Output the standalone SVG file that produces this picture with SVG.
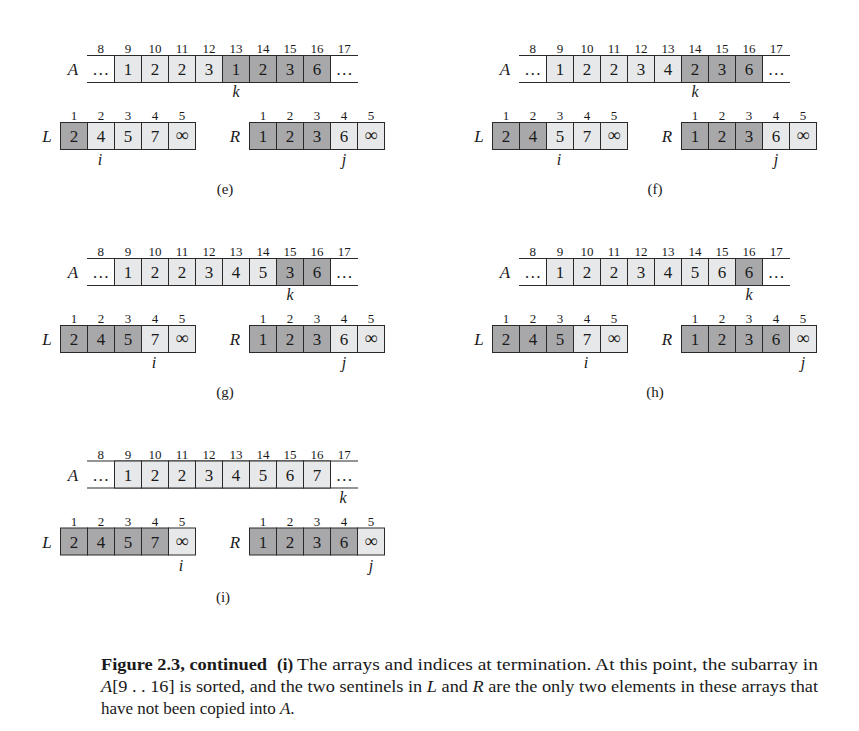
<svg xmlns="http://www.w3.org/2000/svg" width="859" height="731" viewBox="0 0 859 731">
<defs>
<style>
text{font-family:"Liberation Serif","Times New Roman",serif;fill:#1a1a1a}
.idx{font-size:13px;text-anchor:middle}
.val{font-size:17px;text-anchor:middle}
.inf{font-size:18px;text-anchor:middle}
.lbl{font-size:17px;font-style:italic;text-anchor:middle}
.ptr{font-size:16px;font-style:italic;text-anchor:middle}
.cap{font-size:17px}
.pl{font-size:15px;text-anchor:middle}
.d{fill:#a8a8ab;stroke:#2a2a2a;stroke-width:1}
.l{fill:#e7e8e9;stroke:#2a2a2a;stroke-width:1}
.ln{stroke:#2a2a2a;stroke-width:1.2;fill:none}
</style>
</defs>

<!-- Panel (e) -->
<g id="panel-e">
<text class="lbl" x="73" y="75">A</text>
<text class="idx" y="53"><tspan x="100.75">8</tspan><tspan x="128">9</tspan><tspan x="155">10</tspan><tspan x="182">11</tspan><tspan x="209">12</tspan><tspan x="236">13</tspan><tspan x="263">14</tspan><tspan x="290">15</tspan><tspan x="317">16</tspan><tspan x="344.25">17</tspan></text>
<line class="ln" x1="87" y1="55.5" x2="358" y2="55.5"/><line class="ln" x1="87" y1="82.5" x2="358" y2="82.5"/>
<rect class="l" x="114.5" y="55.5" width="27" height="27"/><rect class="l" x="141.5" y="55.5" width="27" height="27"/><rect class="l" x="168.5" y="55.5" width="27" height="27"/><rect class="l" x="195.5" y="55.5" width="27" height="27"/>
<rect class="d" x="222.5" y="55.5" width="27" height="27"/><rect class="d" x="249.5" y="55.5" width="27" height="27"/><rect class="d" x="276.5" y="55.5" width="27" height="27"/><rect class="d" x="303.5" y="55.5" width="27" height="27"/>
<text class="val" y="75"><tspan x="100.75">…</tspan><tspan x="128">1</tspan><tspan x="155">2</tspan><tspan x="182">2</tspan><tspan x="209">3</tspan><tspan x="236">1</tspan><tspan x="263">2</tspan><tspan x="290">3</tspan><tspan x="317">6</tspan><tspan x="344.25">…</tspan></text>
<text class="ptr" x="236" y="97">k</text>
<text class="lbl" x="47" y="142">L</text>
<text class="idx" y="120"><tspan x="74">1</tspan><tspan x="101">2</tspan><tspan x="128">3</tspan><tspan x="155">4</tspan><tspan x="182">5</tspan></text>
<rect class="d" x="60.5" y="122.5" width="27" height="27"/><rect class="l" x="87.5" y="122.5" width="27" height="27"/><rect class="l" x="114.5" y="122.5" width="27" height="27"/><rect class="l" x="141.5" y="122.5" width="27" height="27"/><rect class="l" x="168.5" y="122.5" width="27" height="27"/>
<text class="val" y="142"><tspan x="74">2</tspan><tspan x="101">4</tspan><tspan x="128">5</tspan><tspan x="155">7</tspan></text><text class="inf" x="182" y="141">∞</text>
<text class="ptr" x="100" y="165">i</text>
<text class="lbl" x="235" y="142">R</text>
<text class="idx" y="120"><tspan x="263">1</tspan><tspan x="290">2</tspan><tspan x="317">3</tspan><tspan x="344">4</tspan><tspan x="371">5</tspan></text>
<rect class="d" x="249.5" y="122.5" width="27" height="27"/><rect class="d" x="276.5" y="122.5" width="27" height="27"/><rect class="d" x="303.5" y="122.5" width="27" height="27"/><rect class="l" x="330.5" y="122.5" width="27" height="27"/><rect class="l" x="357.5" y="122.5" width="27" height="27"/>
<text class="val" y="142"><tspan x="263">1</tspan><tspan x="290">2</tspan><tspan x="317">3</tspan><tspan x="344">6</tspan></text><text class="inf" x="371" y="141">∞</text>
<text class="ptr" x="344" y="165">j</text>
<text class="pl" x="225" y="194">(e)</text>
</g>

<!-- Panel (f) -->
<g id="panel-f" transform="translate(432,0)">
<text class="lbl" x="73" y="75">A</text>
<text class="idx" y="53"><tspan x="100.75">8</tspan><tspan x="128">9</tspan><tspan x="155">10</tspan><tspan x="182">11</tspan><tspan x="209">12</tspan><tspan x="236">13</tspan><tspan x="263">14</tspan><tspan x="290">15</tspan><tspan x="317">16</tspan><tspan x="344.25">17</tspan></text>
<line class="ln" x1="87" y1="55.5" x2="358" y2="55.5"/><line class="ln" x1="87" y1="82.5" x2="358" y2="82.5"/>
<rect class="l" x="114.5" y="55.5" width="27" height="27"/><rect class="l" x="141.5" y="55.5" width="27" height="27"/><rect class="l" x="168.5" y="55.5" width="27" height="27"/><rect class="l" x="195.5" y="55.5" width="27" height="27"/>
<rect class="l" x="222.5" y="55.5" width="27" height="27"/><rect class="d" x="249.5" y="55.5" width="27" height="27"/><rect class="d" x="276.5" y="55.5" width="27" height="27"/><rect class="d" x="303.5" y="55.5" width="27" height="27"/>
<text class="val" y="75"><tspan x="100.75">…</tspan><tspan x="128">1</tspan><tspan x="155">2</tspan><tspan x="182">2</tspan><tspan x="209">3</tspan><tspan x="236">4</tspan><tspan x="263">2</tspan><tspan x="290">3</tspan><tspan x="317">6</tspan><tspan x="344.25">…</tspan></text>
<text class="ptr" x="263" y="97">k</text>
<text class="lbl" x="47" y="142">L</text>
<text class="idx" y="120"><tspan x="74">1</tspan><tspan x="101">2</tspan><tspan x="128">3</tspan><tspan x="155">4</tspan><tspan x="182">5</tspan></text>
<rect class="d" x="60.5" y="122.5" width="27" height="27"/><rect class="d" x="87.5" y="122.5" width="27" height="27"/><rect class="l" x="114.5" y="122.5" width="27" height="27"/><rect class="l" x="141.5" y="122.5" width="27" height="27"/><rect class="l" x="168.5" y="122.5" width="27" height="27"/>
<text class="val" y="142"><tspan x="74">2</tspan><tspan x="101">4</tspan><tspan x="128">5</tspan><tspan x="155">7</tspan></text><text class="inf" x="182" y="141">∞</text>
<text class="ptr" x="127" y="165">i</text>
<text class="lbl" x="235" y="142">R</text>
<text class="idx" y="120"><tspan x="263">1</tspan><tspan x="290">2</tspan><tspan x="317">3</tspan><tspan x="344">4</tspan><tspan x="371">5</tspan></text>
<rect class="d" x="249.5" y="122.5" width="27" height="27"/><rect class="d" x="276.5" y="122.5" width="27" height="27"/><rect class="d" x="303.5" y="122.5" width="27" height="27"/><rect class="l" x="330.5" y="122.5" width="27" height="27"/><rect class="l" x="357.5" y="122.5" width="27" height="27"/>
<text class="val" y="142"><tspan x="263">1</tspan><tspan x="290">2</tspan><tspan x="317">3</tspan><tspan x="344">6</tspan></text><text class="inf" x="371" y="141">∞</text>
<text class="ptr" x="344" y="165">j</text>
<text class="pl" x="223" y="194">(f)</text>
</g>

<!-- Panel (g) -->
<g id="panel-g" transform="translate(0,203)">
<text class="lbl" x="73" y="75">A</text>
<text class="idx" y="53"><tspan x="100.75">8</tspan><tspan x="128">9</tspan><tspan x="155">10</tspan><tspan x="182">11</tspan><tspan x="209">12</tspan><tspan x="236">13</tspan><tspan x="263">14</tspan><tspan x="290">15</tspan><tspan x="317">16</tspan><tspan x="344.25">17</tspan></text>
<line class="ln" x1="87" y1="55.5" x2="358" y2="55.5"/><line class="ln" x1="87" y1="82.5" x2="358" y2="82.5"/>
<rect class="l" x="114.5" y="55.5" width="27" height="27"/><rect class="l" x="141.5" y="55.5" width="27" height="27"/><rect class="l" x="168.5" y="55.5" width="27" height="27"/><rect class="l" x="195.5" y="55.5" width="27" height="27"/>
<rect class="l" x="222.5" y="55.5" width="27" height="27"/><rect class="l" x="249.5" y="55.5" width="27" height="27"/><rect class="d" x="276.5" y="55.5" width="27" height="27"/><rect class="d" x="303.5" y="55.5" width="27" height="27"/>
<text class="val" y="75"><tspan x="100.75">…</tspan><tspan x="128">1</tspan><tspan x="155">2</tspan><tspan x="182">2</tspan><tspan x="209">3</tspan><tspan x="236">4</tspan><tspan x="263">5</tspan><tspan x="290">3</tspan><tspan x="317">6</tspan><tspan x="344.25">…</tspan></text>
<text class="ptr" x="290" y="97">k</text>
<text class="lbl" x="47" y="142">L</text>
<text class="idx" y="120"><tspan x="74">1</tspan><tspan x="101">2</tspan><tspan x="128">3</tspan><tspan x="155">4</tspan><tspan x="182">5</tspan></text>
<rect class="d" x="60.5" y="122.5" width="27" height="27"/><rect class="d" x="87.5" y="122.5" width="27" height="27"/><rect class="d" x="114.5" y="122.5" width="27" height="27"/><rect class="l" x="141.5" y="122.5" width="27" height="27"/><rect class="l" x="168.5" y="122.5" width="27" height="27"/>
<text class="val" y="142"><tspan x="74">2</tspan><tspan x="101">4</tspan><tspan x="128">5</tspan><tspan x="155">7</tspan></text><text class="inf" x="182" y="141">∞</text>
<text class="ptr" x="154" y="165">i</text>
<text class="lbl" x="235" y="142">R</text>
<text class="idx" y="120"><tspan x="263">1</tspan><tspan x="290">2</tspan><tspan x="317">3</tspan><tspan x="344">4</tspan><tspan x="371">5</tspan></text>
<rect class="d" x="249.5" y="122.5" width="27" height="27"/><rect class="d" x="276.5" y="122.5" width="27" height="27"/><rect class="d" x="303.5" y="122.5" width="27" height="27"/><rect class="l" x="330.5" y="122.5" width="27" height="27"/><rect class="l" x="357.5" y="122.5" width="27" height="27"/>
<text class="val" y="142"><tspan x="263">1</tspan><tspan x="290">2</tspan><tspan x="317">3</tspan><tspan x="344">6</tspan></text><text class="inf" x="371" y="141">∞</text>
<text class="ptr" x="344" y="165">j</text>
<text class="pl" x="225" y="194">(g)</text>
</g>

<!-- Panel (h) -->
<g id="panel-h" transform="translate(432,203)">
<text class="lbl" x="73" y="75">A</text>
<text class="idx" y="53"><tspan x="100.75">8</tspan><tspan x="128">9</tspan><tspan x="155">10</tspan><tspan x="182">11</tspan><tspan x="209">12</tspan><tspan x="236">13</tspan><tspan x="263">14</tspan><tspan x="290">15</tspan><tspan x="317">16</tspan><tspan x="344.25">17</tspan></text>
<line class="ln" x1="87" y1="55.5" x2="358" y2="55.5"/><line class="ln" x1="87" y1="82.5" x2="358" y2="82.5"/>
<rect class="l" x="114.5" y="55.5" width="27" height="27"/><rect class="l" x="141.5" y="55.5" width="27" height="27"/><rect class="l" x="168.5" y="55.5" width="27" height="27"/><rect class="l" x="195.5" y="55.5" width="27" height="27"/>
<rect class="l" x="222.5" y="55.5" width="27" height="27"/><rect class="l" x="249.5" y="55.5" width="27" height="27"/><rect class="l" x="276.5" y="55.5" width="27" height="27"/><rect class="d" x="303.5" y="55.5" width="27" height="27"/>
<text class="val" y="75"><tspan x="100.75">…</tspan><tspan x="128">1</tspan><tspan x="155">2</tspan><tspan x="182">2</tspan><tspan x="209">3</tspan><tspan x="236">4</tspan><tspan x="263">5</tspan><tspan x="290">6</tspan><tspan x="317">6</tspan><tspan x="344.25">…</tspan></text>
<text class="ptr" x="317" y="97">k</text>
<text class="lbl" x="47" y="142">L</text>
<text class="idx" y="120"><tspan x="74">1</tspan><tspan x="101">2</tspan><tspan x="128">3</tspan><tspan x="155">4</tspan><tspan x="182">5</tspan></text>
<rect class="d" x="60.5" y="122.5" width="27" height="27"/><rect class="d" x="87.5" y="122.5" width="27" height="27"/><rect class="d" x="114.5" y="122.5" width="27" height="27"/><rect class="l" x="141.5" y="122.5" width="27" height="27"/><rect class="l" x="168.5" y="122.5" width="27" height="27"/>
<text class="val" y="142"><tspan x="74">2</tspan><tspan x="101">4</tspan><tspan x="128">5</tspan><tspan x="155">7</tspan></text><text class="inf" x="182" y="141">∞</text>
<text class="ptr" x="154" y="165">i</text>
<text class="lbl" x="235" y="142">R</text>
<text class="idx" y="120"><tspan x="263">1</tspan><tspan x="290">2</tspan><tspan x="317">3</tspan><tspan x="344">4</tspan><tspan x="371">5</tspan></text>
<rect class="d" x="249.5" y="122.5" width="27" height="27"/><rect class="d" x="276.5" y="122.5" width="27" height="27"/><rect class="d" x="303.5" y="122.5" width="27" height="27"/><rect class="d" x="330.5" y="122.5" width="27" height="27"/><rect class="l" x="357.5" y="122.5" width="27" height="27"/>
<text class="val" y="142"><tspan x="263">1</tspan><tspan x="290">2</tspan><tspan x="317">3</tspan><tspan x="344">6</tspan></text><text class="inf" x="371" y="141">∞</text>
<text class="ptr" x="371" y="165">j</text>
<text class="pl" x="223" y="194">(h)</text>
</g>

<!-- Panel (i) -->
<g id="panel-i" transform="translate(0,405.5)">
<text class="lbl" x="73" y="75">A</text>
<text class="idx" y="53"><tspan x="100.75">8</tspan><tspan x="128">9</tspan><tspan x="155">10</tspan><tspan x="182">11</tspan><tspan x="209">12</tspan><tspan x="236">13</tspan><tspan x="263">14</tspan><tspan x="290">15</tspan><tspan x="317">16</tspan><tspan x="344.25">17</tspan></text>
<line class="ln" x1="87" y1="55.5" x2="358" y2="55.5"/><line class="ln" x1="87" y1="82.5" x2="358" y2="82.5"/>
<rect class="l" x="114.5" y="55.5" width="27" height="27"/><rect class="l" x="141.5" y="55.5" width="27" height="27"/><rect class="l" x="168.5" y="55.5" width="27" height="27"/><rect class="l" x="195.5" y="55.5" width="27" height="27"/>
<rect class="l" x="222.5" y="55.5" width="27" height="27"/><rect class="l" x="249.5" y="55.5" width="27" height="27"/><rect class="l" x="276.5" y="55.5" width="27" height="27"/><rect class="l" x="303.5" y="55.5" width="27" height="27"/>
<text class="val" y="75"><tspan x="100.75">…</tspan><tspan x="128">1</tspan><tspan x="155">2</tspan><tspan x="182">2</tspan><tspan x="209">3</tspan><tspan x="236">4</tspan><tspan x="263">5</tspan><tspan x="290">6</tspan><tspan x="317">7</tspan><tspan x="344.25">…</tspan></text>
<text class="ptr" x="343" y="97">k</text>
<text class="lbl" x="47" y="142">L</text>
<text class="idx" y="120"><tspan x="74">1</tspan><tspan x="101">2</tspan><tspan x="128">3</tspan><tspan x="155">4</tspan><tspan x="182">5</tspan></text>
<rect class="d" x="60.5" y="122.5" width="27" height="27"/><rect class="d" x="87.5" y="122.5" width="27" height="27"/><rect class="d" x="114.5" y="122.5" width="27" height="27"/><rect class="d" x="141.5" y="122.5" width="27" height="27"/><rect class="l" x="168.5" y="122.5" width="27" height="27"/>
<text class="val" y="142"><tspan x="74">2</tspan><tspan x="101">4</tspan><tspan x="128">5</tspan><tspan x="155">7</tspan></text><text class="inf" x="182" y="141">∞</text>
<text class="ptr" x="181" y="165">i</text>
<text class="lbl" x="235" y="142">R</text>
<text class="idx" y="120"><tspan x="263">1</tspan><tspan x="290">2</tspan><tspan x="317">3</tspan><tspan x="344">4</tspan><tspan x="371">5</tspan></text>
<rect class="d" x="249.5" y="122.5" width="27" height="27"/><rect class="d" x="276.5" y="122.5" width="27" height="27"/><rect class="d" x="303.5" y="122.5" width="27" height="27"/><rect class="d" x="330.5" y="122.5" width="27" height="27"/><rect class="l" x="357.5" y="122.5" width="27" height="27"/>
<text class="val" y="142"><tspan x="263">1</tspan><tspan x="290">2</tspan><tspan x="317">3</tspan><tspan x="344">6</tspan></text><text class="inf" x="371" y="141">∞</text>
<text class="ptr" x="371" y="165">j</text>
<text class="pl" x="223" y="196">(i)</text>
</g>

<!-- Caption -->
<g id="caption">
<text class="cap" x="101" y="670" font-weight="bold" textLength="166" lengthAdjust="spacingAndGlyphs">Figure 2.3, continued</text>
<text class="cap" x="277" y="670" font-weight="bold">(i)</text>
<text class="cap" x="297" y="670" textLength="521" lengthAdjust="spacingAndGlyphs">The arrays and indices at termination.  At this point, the subarray in</text>
<text class="cap" x="101" y="692" textLength="717" lengthAdjust="spacingAndGlyphs"><tspan font-style="italic">A</tspan>[9 . . 16] is sorted, and the two sentinels in <tspan font-style="italic">L</tspan> and <tspan font-style="italic">R</tspan> are the only two elements in these arrays that</text>
<text class="cap" x="101" y="714">have not been copied into <tspan font-style="italic">A</tspan>.</text>
</g>
</svg>
